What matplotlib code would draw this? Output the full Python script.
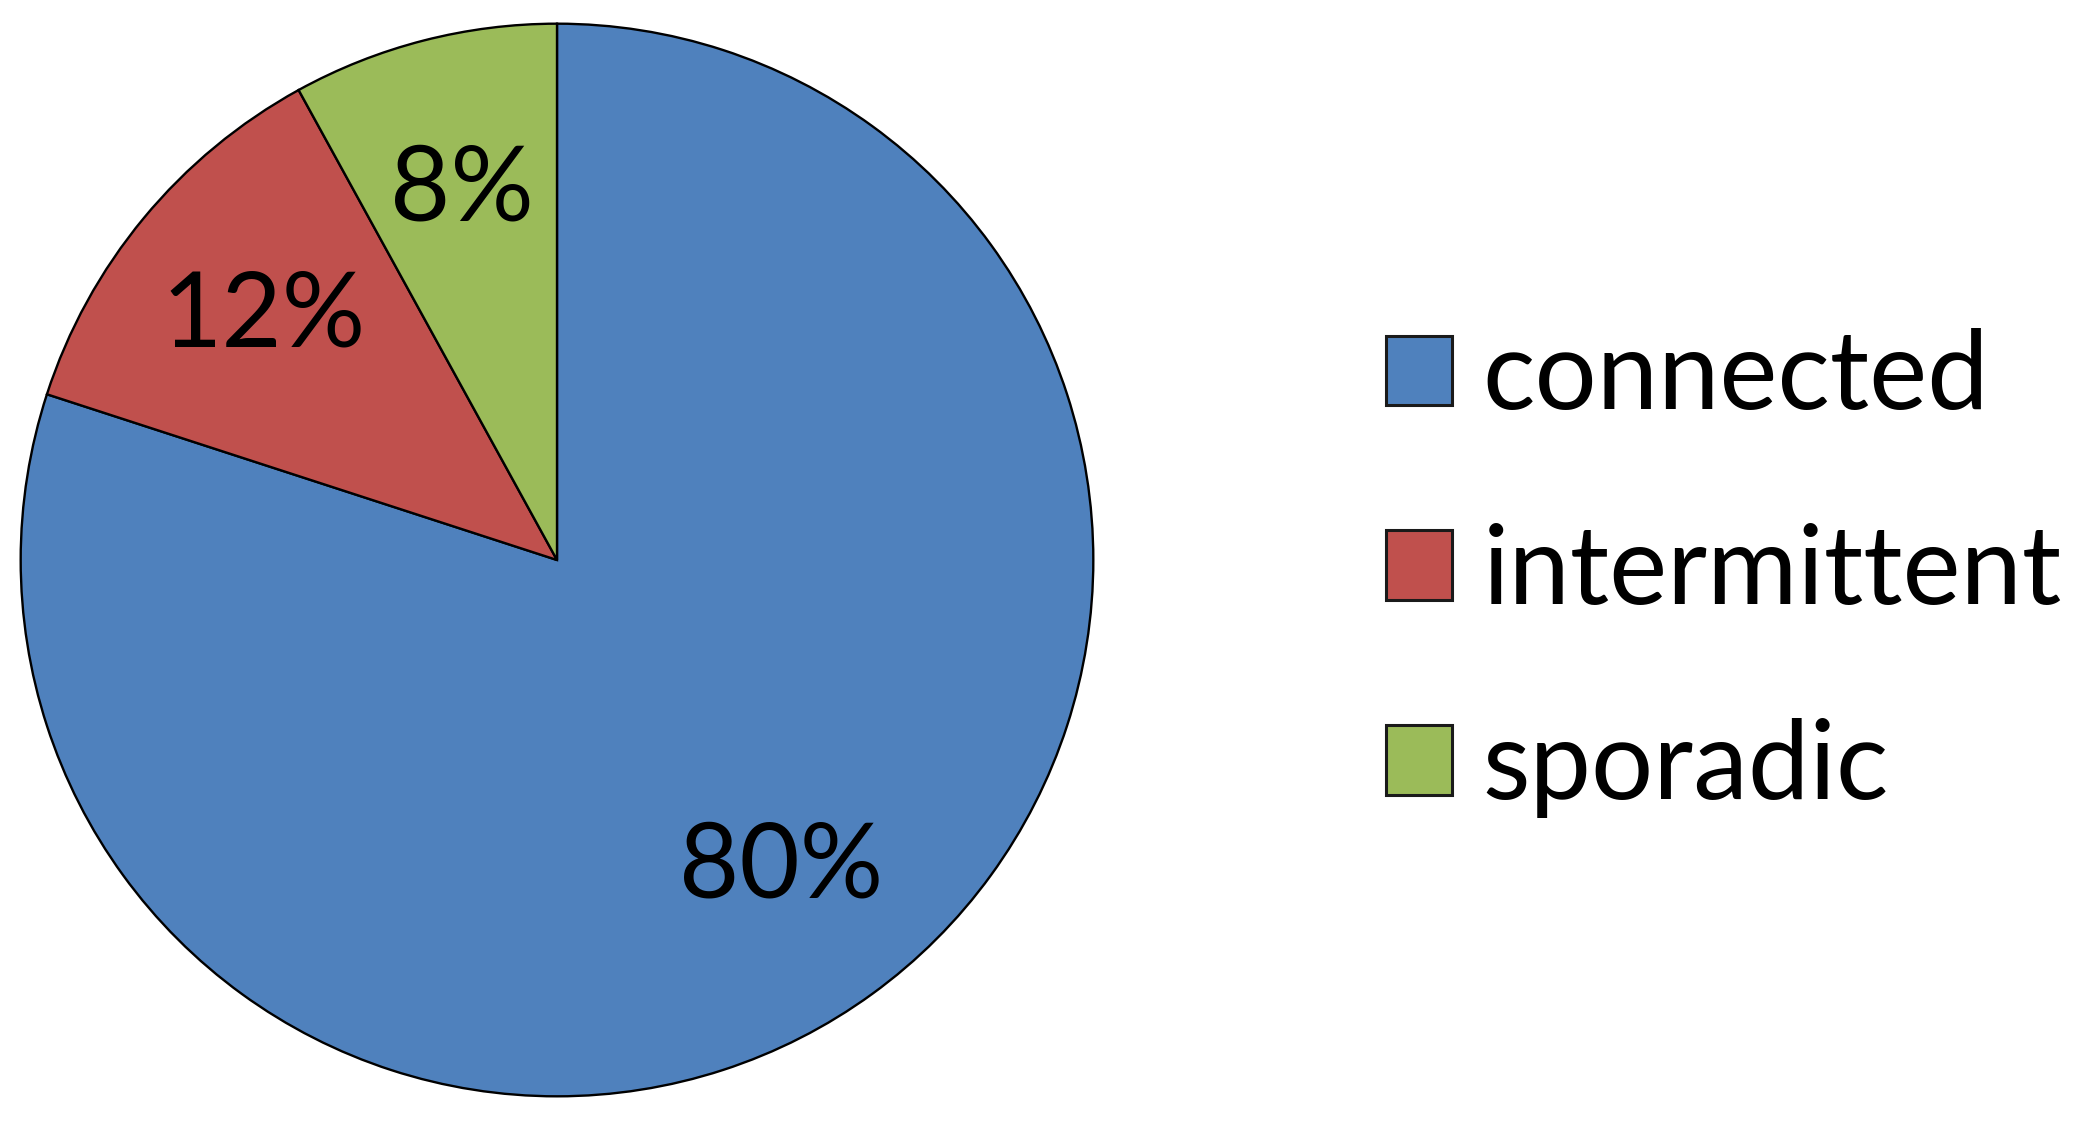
import matplotlib
matplotlib.use("Agg")
import matplotlib.pyplot as plt

categories = ["connected", "intermittent", "sporadic"]
values = [80, 12, 8]
colors = ["#4F81BD", "#C0504D", "#9BBB59"]

plt.rcParams['font.family'] = ['Lato', 'DejaVu Sans']

W, H = 2079, 1130
fig = plt.figure(figsize=(W / 100, H / 100), dpi=100)
cx, cy, r = 557, 560, 539
ax = fig.add_axes([(cx - r) / W, (H - cy - r) / H, 2 * r / W, 2 * r / H])

wedges, texts, autotexts = ax.pie(
    values, colors=colors, startangle=90, counterclock=False,
    autopct=lambda p: f"{p:.0f}%", pctdistance=0.71,
    wedgeprops=dict(edgecolor="black", linewidth=1.7),
    textprops=dict(fontsize=75, color="black"),
)
ax.set_xlim(-1.005, 1.005)
ax.set_ylim(-1.005, 1.005)
ax.set_aspect("equal")
ax.axis("off")

fs = 79
leg = fig.legend(
    wedges, categories, loc="center left",
    bbox_to_anchor=(1287 / W, 1 - 573 / H),
    frameon=False, fontsize=fs,
    handlelength=47.5 / fs, handleheight=47.5 / fs,
    handletextpad=0.28, labelspacing=0.865,
)
for h in leg.legend_handles:
    h.set_edgecolor("#1a1a1a")
    h.set_linewidth(2.2)

fig.savefig("out.png", dpi=100)
